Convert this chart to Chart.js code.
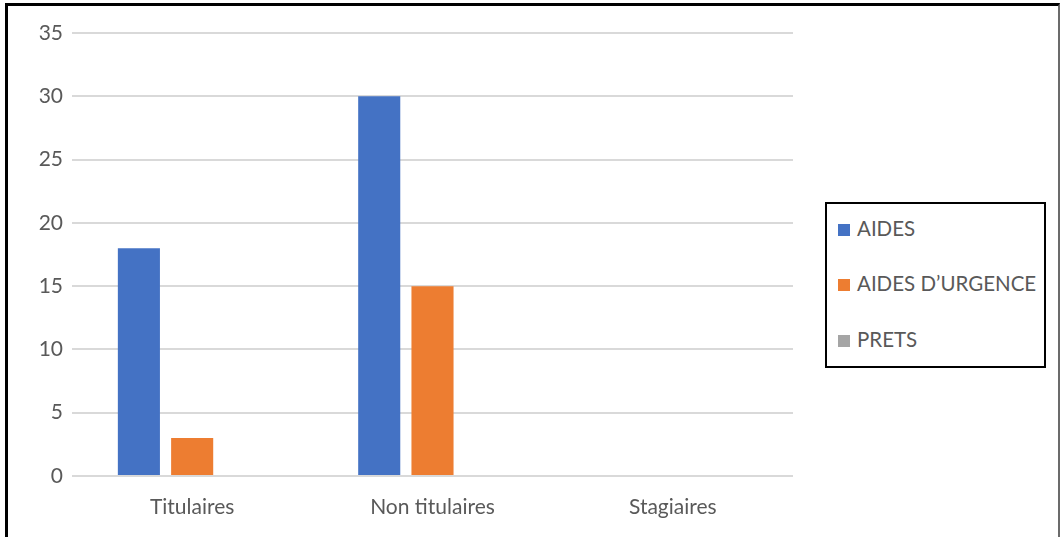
<!DOCTYPE html>
<html>
<head>
<meta charset="utf-8">
<script src="https://cdn.jsdelivr.net/npm/chart.js@4/dist/chart.umd.min.js"></script>
<style>
  html, body { margin: 0; padding: 0; background: #fff; }
  #wrap { position: relative; width: 1061px; height: 537px; overflow: hidden; }
  #frame {
    position: absolute; left: 5px; top: 3px; width: 1050px; height: 560px;
    border-left: 3px solid #000; border-top: 3px solid #000; border-right: 2px solid #6b6b6b;
  }
  canvas { position: absolute; left: 0; top: 0; }
  #legend {
    position: absolute; left: 825px; top: 202px; width: 217px; height: 162px;
    border: 2px solid #000; background: #fff;
    font-family: Lato, "Open Sans", sans-serif; font-size: 20.5px; color: #595959;
  }
  .item { position: absolute; left: 11px; height: 24px; line-height: 24px; white-space: nowrap; }
  .sw { display: inline-block; width: 12px; height: 12px; margin-right: 7px; vertical-align: 0px; }
</style>
</head>
<body>
<div id="wrap">
  <div id="frame"></div>
  <canvas id="c" width="1061" height="537"></canvas>
  <div id="legend"></div>
</div>
<script>
const categories = ['Titulaires', 'Non titulaires', 'Stagiaires'];
const seriesNames = ['AIDES', 'AIDES D\u2019URGENCE', 'PRETS'];
const aides = [18, 30, 0];
const aidesUrgence = [3, 15, 0];
const prets = [0, 0, 0];
const seriesColors = ['#4472C4', '#ED7D31', '#A5A5A5'];

const font = { family: 'Lato, "Open Sans", sans-serif', size: 21 };

const chart = new Chart(document.getElementById('c'), {
  type: 'bar',
  data: {
    labels: categories,
    datasets: [aides, aidesUrgence, prets].map((vals, i) => ({
      label: seriesNames[i],
      data: vals,
      backgroundColor: seriesColors[i],
      borderWidth: 0,
      categoryPercentage: 0.665,
      barPercentage: 0.79
    }))
  },
  options: {
    responsive: false,
    animation: false,
    layout: { padding: { left: 1, top: 33, right: 268, bottom: 0 } },
    plugins: { legend: { display: false }, tooltip: { enabled: false } },
    scales: {
      x: {
        grid: { display: false, drawTicks: false },
        border: { display: false },
        ticks: { color: '#595959', font: font, padding: 19 },
        afterFit: s => { s.height = 61; }
      },
      y: {
        min: 0, max: 35,
        ticks: { stepSize: 5, color: '#595959', font: font, padding: 9 },
        grid: { color: '#d9d9d9', lineWidth: 2, drawTicks: false },
        border: { display: false },
        afterFit: s => { s.width = 71; }
      }
    }
  }
});

// Legend box built from the chart's datasets
const legend = document.getElementById('legend');
const rowCenters = [24, 79, 135];
chart.data.datasets.forEach((ds, i) => {
  const row = document.createElement('div');
  row.className = 'item';
  row.style.top = (rowCenters[i] - 12) + 'px';
  const sw = document.createElement('span');
  sw.className = 'sw';
  sw.style.background = ds.backgroundColor;
  row.appendChild(sw);
  row.appendChild(document.createTextNode(ds.label));
  legend.appendChild(row);
});
</script>
</body>
</html>
